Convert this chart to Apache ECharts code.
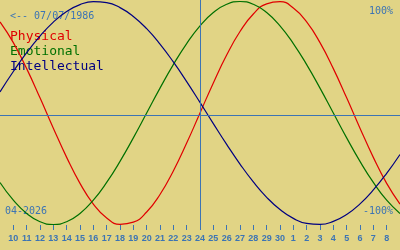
<!DOCTYPE html>
<html>
<head>
<meta charset="utf-8">
<script src="https://cdn.jsdelivr.net/npm/echarts@6/dist/echarts.min.js"></script>
<style>
html,body{margin:0;padding:0;background:#e1d485;}
#chart{width:400px;height:250px;}
</style>
</head>
<body>
<div id="chart"></div>
<script>
// Day labels for x index 0..30 (09 Apr 2026 .. 09 May 2026)
var dayLabels = ['9','10','11','12','13','14','15','16','17','18','19','20','21','22','23','24','25','26','27','28','29','30','1','2','3','4','5','6','7','8','9'];
var tickIndices = [1,2,3,4,5,6,7,8,9,10,11,12,13,14,15,16,17,18,19,20,21,22,23,24,25,26,27,28,29];
var todayIndex = 15;
var zeroLineValue = -0.018;

var physical = [0.817,0.631,0.398,0.136,-0.136,-0.398,-0.631,-0.817,-0.942,-0.998,-0.979,-0.888,-0.731,-0.520,-0.270,0,0.270,0.520,0.731,0.888,0.979,0.998,0.942,0.817,0.631,0.398,0.136,-0.136,-0.398,-0.631,-0.817];
var emotional = [-0.623,-0.782,-0.901,-0.975,-1,-0.975,-0.901,-0.782,-0.623,-0.434,-0.223,0,0.223,0.434,0.623,0.782,0.901,0.975,1,0.975,0.901,0.782,0.623,0.434,0.223,0,-0.223,-0.434,-0.623,-0.782,-0.901];
var intellectual = [0.189,0.372,0.541,0.690,0.815,0.910,0.972,0.999,0.990,0.945,0.866,0.756,0.618,0.458,0.282,0.095,-0.095,-0.282,-0.458,-0.618,-0.756,-0.866,-0.945,-0.990,-0.999,-0.972,-0.910,-0.815,-0.690,-0.541,-0.372];

var seriesNames = ['Physical','Emotional','Intellectual'];
var seriesColors = ['#e00000','#007000','#000080'];
var axisColor = '#3c74b4';

function pairs(arr){ return arr.map(function(v,i){ return [i, v]; }); }

var chart = echarts.init(document.getElementById('chart'), null, {renderer:'canvas'});
var option = {
  animation: false,
  backgroundColor: '#e1d485',
  grid: {left: 0, right: 0, top: 0, bottom: 20, containLabel: false},
  xAxis: {
    type: 'value', min: 0, max: 30, interval: 1,
    axisLine: {show: false, onZero: false},
    splitLine: {show: false},
    axisTick: {show: true, inside: true, length: 5, lineStyle: {color: axisColor, width: 1}, customValues: tickIndices},
    axisLabel: {
      show: true, margin: 4, color: axisColor, fontSize: 9, fontWeight: 'bold',
      fontFamily: 'Liberation Sans', customValues: tickIndices,
      formatter: function(v){ return dayLabels[Math.round(v)]; }
    }
  },
  yAxis: {
    type: 'value', min: -1.04933, max: 1.01345,
    show: false
  },
  graphic: [
    {type:'text', left: 10, top: 11, style:{text:'<-- 07/07/1986', fill: axisColor, font:'10px "DejaVu Sans Mono"'}},
    {type:'text', right: 7, top: 6, style:{text:'100%', fill: axisColor, font:'10px "DejaVu Sans Mono"'}},
    {type:'text', right: 7, top: 206, style:{text:'-100%', fill: axisColor, font:'10px "DejaVu Sans Mono"'}},
    {type:'text', left: 5, top: 206, style:{text:'04-2026', fill: axisColor, font:'10px "DejaVu Sans Mono"'}},
    {type:'text', left: 10, top: 30, style:{text: seriesNames[0], fill: seriesColors[0], font:'13px "DejaVu Sans Mono"'}},
    {type:'text', left: 10, top: 45, style:{text: seriesNames[1], fill: seriesColors[1], font:'13px "DejaVu Sans Mono"'}},
    {type:'text', left: 10, top: 60, style:{text: seriesNames[2], fill: seriesColors[2], font:'13px "DejaVu Sans Mono"'}}
  ],
  series: [
    {
      name: 'guides', type: 'line', data: [], silent: true,
      markLine: {
        silent: true, symbol: ['none','none'], label: {show: false},
        lineStyle: {color: axisColor, width: 1, type: 'solid'},
        data: [{xAxis: todayIndex}, {yAxis: zeroLineValue}]
      }
    },
    {name: seriesNames[0], type:'line', data: pairs(physical), smooth: true, showSymbol: false, lineStyle:{color: seriesColors[0], width: 1.2}, itemStyle:{color: seriesColors[0]}},
    {name: seriesNames[1], type:'line', data: pairs(emotional), smooth: true, showSymbol: false, lineStyle:{color: seriesColors[1], width: 1.2}, itemStyle:{color: seriesColors[1]}},
    {name: seriesNames[2], type:'line', data: pairs(intellectual), smooth: true, showSymbol: false, lineStyle:{color: seriesColors[2], width: 1.2}, itemStyle:{color: seriesColors[2]}}
  ]
};
chart.setOption(option);
</script>
</body>
</html>
